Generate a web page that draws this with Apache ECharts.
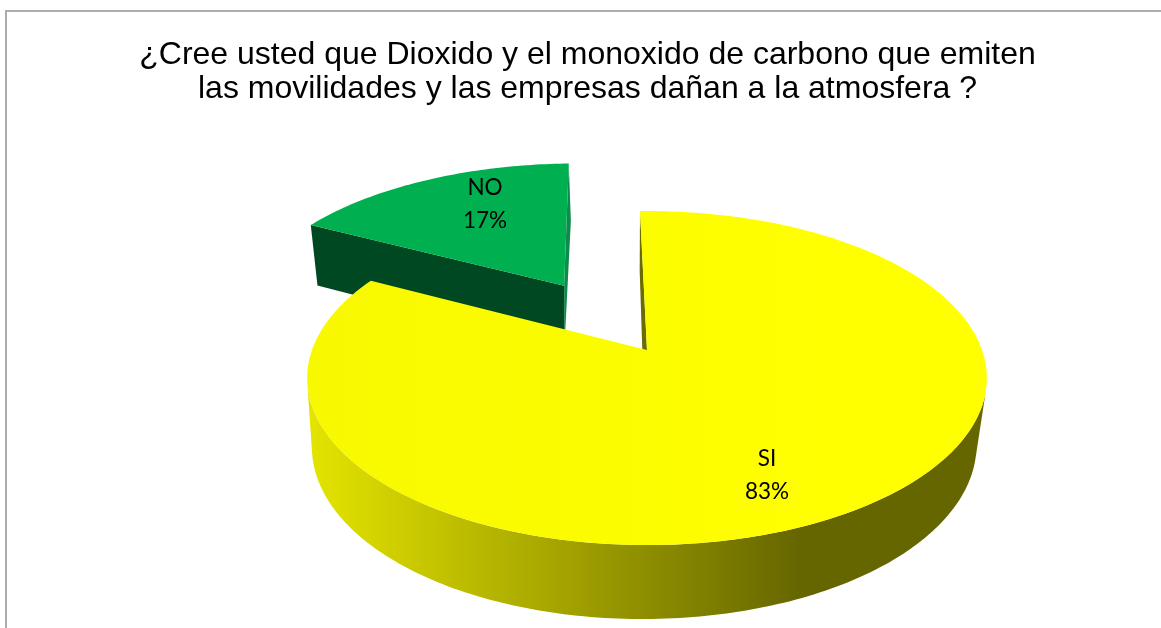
<!DOCTYPE html>
<html>
<head>
<meta charset="utf-8">
<style>html,body{margin:0;padding:0;background:#fff}#chart{width:1161px;height:628px}</style>
<script src="https://cdn.jsdelivr.net/npm/echarts@6/dist/echarts.min.js"></script>
</head>
<body>
<div id="chart"></div>
<script>
// Survey answers
const categories = ['SI', 'NO'];
const values = [83, 17];
const titleLines = [
  '¿Cree usted que Dioxido y el monoxido de carbono que emiten',
  'las movilidades y las empresas dañan a la atmosfera ?'
];

// Perspective camera for the tilted disc
const CAM = {
  cx: 647, cy: 350,       // screen position of the pie's centre
  rx: 335, ry: 162.3,     // radius scale along each axis
  tilt: 0.168,            // foreshortening towards the back
  depth: 68,              // wall height
  depthW: 0.024,
  vanishX: 535, shrink: 0.978, skew: -2,
  startDeg: -1.4
};
const EXPLODE = { NO: 0.5, SI: 0 };
const LABEL_AT = { SI: [767, 475], NO: [485, 204.5] };
const COLORS = {
  SI: { sliver: '#6b6b00' },
  NO: { top: '#00B050', wall: '#004822', sliver: '#0d8a4c' }
};

const total = values.reduce((a, b) => a + b, 0);

function rad(d) { return d * Math.PI / 180; }

// Projects a disc-plane point (u to the right, v towards the viewer) on the top face
function topFace(u, v) {
  const w = 1 - CAM.tilt * v;
  return [CAM.cx + CAM.rx * u / w, CAM.cy + CAM.ry * v / w];
}
// Same point on the lower face, pulled towards the vanishing line
function baseFace(u, v) {
  const w = 1 - CAM.tilt * v + CAM.depthW;
  const p = topFace(u, v);
  return [
    CAM.vanishX + (p[0] - CAM.vanishX) * CAM.shrink + CAM.skew * v,
    CAM.cy + (CAM.ry * v + CAM.depth) / w
  ];
}

function sliceGeometry(index) {
  let start = CAM.startDeg;
  for (let i = 0; i < index; i++) start += values[i] / total * 360;
  const sweep = values[index] / total * 360;
  const mid = rad(start + sweep / 2);
  const d = EXPLODE[categories[index]];
  return { start, sweep, ou: d * Math.sin(mid), ov: -d * Math.cos(mid) };
}
function rim(g, deg, fn) {
  return fn(g.ou + Math.sin(rad(deg)), g.ov - Math.cos(rad(deg)));
}
function arc(g, from, to, fn) {
  const pts = [];
  const n = Math.max(2, Math.ceil(Math.abs(to - from)));
  for (let i = 0; i <= n; i++) pts.push(rim(g, from + (to - from) * i / n, fn));
  return pts;
}
// Angles where the outer wall turns from hidden to visible
function wallRange(g) {
  const facing = (deg) => {
    const a = rim(g, deg, topFace), b = rim(g, deg + 0.5, topFace), c = rim(g, deg, baseFace);
    return (b[0] - a[0]) * (c[1] - a[1]) - (b[1] - a[1]) * (c[0] - a[0]) < 0;
  };
  let from = g.start, to = g.start + g.sweep;
  while (from < to && !facing(from)) from += 0.25;
  let end = from;
  while (end < to && facing(end)) end += 0.25;
  return [from, end];
}

const yellowWall = new echarts.graphic.LinearGradient(310, 0, 980, 0, [
  { offset: 0, color: '#E4E400' },
  { offset: 0.731, color: '#666600' },
  { offset: 1, color: '#666600' }
], true);
const yellowTop = new echarts.graphic.LinearGradient(310, 0, 980, 0, [
  { offset: 0, color: '#F8F800' },
  { offset: 0.75, color: '#FFFF00' },
  { offset: 1, color: '#FFFF00' }
], true);

function renderSlice(params, api) {
  const i = params.dataIndex;
  const name = categories[i];
  const g = sliceGeometry(i);
  const apexTop = topFace(g.ou, g.ov);
  const apexBase = baseFace(g.ou, g.ov);
  const startTop = rim(g, g.start, topFace);
  const startBase = rim(g, g.start, baseFace);
  const endTop = rim(g, g.start + g.sweep, topFace);
  const endBase = rim(g, g.start + g.sweep, baseFace);
  const layer = i === 0 ? 10 : 0;
  const poly = (points, fill, z) => ({
    type: 'polygon', z2: layer + z, shape: { points }, style: { fill, stroke: null }
  });
  const children = [];
  if (name === 'SI') {
    // Thin radial wall beside the gap, then the curved outer wall
    children.push(poly([apexTop, startTop, startBase, apexBase], COLORS.SI.sliver, 1));
    const [a, b] = wallRange(g);
    const wall = arc(g, a, b, topFace).concat(arc(g, b, a, baseFace));
    children.push(poly(wall, yellowWall, 2));
  } else {
    // Exploded slice: both radial walls show, the outer wall faces away
    children.push(poly([apexTop, endTop, endBase, apexBase], COLORS.NO.sliver, 1));
    children.push(poly([apexTop, startTop, startBase, apexBase], COLORS.NO.wall, 2));
  }
  const face = [apexTop].concat(arc(g, g.start, g.start + g.sweep, topFace));
  children.push(poly(face, name === 'SI' ? yellowTop : COLORS.NO.top, 3));
  const at = LABEL_AT[name];
  const pct = Math.round(api.value(0) / total * 100) + '%';
  children.push({
    type: 'text', z2: 30,
    style: {
      x: at[0], y: at[1],
      text: name + '\n' + pct,
      fill: '#000',
      font: '22.5px Lato, "Noto Sans", sans-serif',
      lineHeight: 33,
      align: 'center', verticalAlign: 'middle'
    }
  });
  return { type: 'group', children };
}

const chart = echarts.init(document.getElementById('chart'), null, { renderer: 'canvas' });
chart.setOption({
  animation: false,
  backgroundColor: '#fff',
  title: {
    text: titleLines.join('\n'),
    left: 582.5, top: 33, textAlign: 'center',
    textStyle: {
      fontFamily: '"Liberation Sans", Arial, sans-serif',
      fontSize: 32, fontWeight: 'normal', color: '#000', lineHeight: 34
    }
  },
  graphic: [{
    type: 'polyline', silent: true,
    shape: { points: [[6, 640], [6, 11], [1170, 11]] },
    style: { stroke: '#ADADAD', lineWidth: 2, fill: null }
  }],
  series: [{
    type: 'custom',
    coordinateSystem: 'none',
    renderItem: renderSlice,
    data: values.map((v) => [v])
  }]
});
</script>
</body>
</html>
